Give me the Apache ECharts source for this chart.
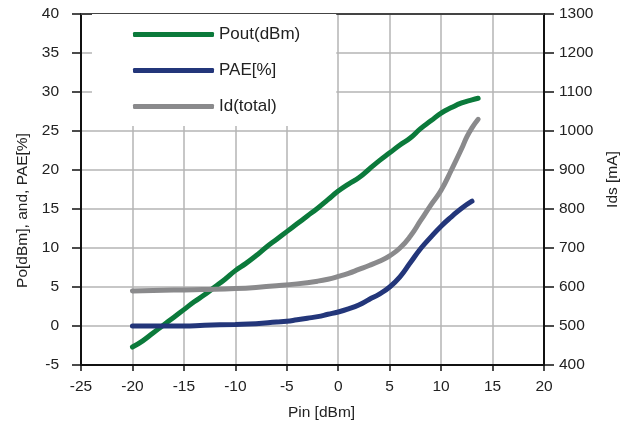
<!DOCTYPE html>
<html>
<head>
<meta charset="utf-8">
<script src="https://cdn.jsdelivr.net/npm/echarts@6/dist/echarts.min.js"></script>
<style>
  html, body { margin: 0; padding: 0; background: #fff; }
  #main { width: 626px; height: 430px; }
</style>
</head>
<body>
<div id="main"></div>
<script>
// Pout (dBm) vs Pin
var pinPout = [-20, -19, -18, -17, -16, -15, -14, -13, -12, -11, -10, -9, -8, -7, -6, -5, -4, -3, -2, -1, 0, 1, 2, 3, 4, 5, 6, 7, 8, 9, 10, 11, 12, 13, 13.6];
var pout = [-2.7, -1.9, -0.9, 0.1, 1.1, 2.1, 3.1, 4.0, 5.0, 6.0, 7.1, 8.0, 9.0, 10.1, 11.1, 12.1, 13.1, 14.1, 15.1, 16.2, 17.3, 18.2, 19.0, 20.1, 21.2, 22.2, 23.2, 24.1, 25.3, 26.3, 27.3, 28.0, 28.6, 29.0, 29.2];

// PAE (%) vs Pin
var pinPae = [-20, -17, -15, -13, -10, -8, -6, -5, -4, -3, -2, -1, 0, 1, 2, 3, 4, 5, 6, 7, 8, 9, 10, 11, 12, 13];
var pae = [0, 0, 0, 0.1, 0.2, 0.3, 0.5, 0.6, 0.8, 1.0, 1.2, 1.5, 1.8, 2.2, 2.7, 3.4, 4.1, 5.0, 6.3, 8.1, 9.9, 11.4, 12.8, 14.0, 15.1, 16.0];

// Id(total) (mA) vs Pin
var pinId = [-20, -18, -16, -14, -12, -10, -8, -6, -4, -2, -1, 0, 1, 2, 3, 4, 5, 6, 7, 8, 9, 10, 11, 12, 12.5, 13, 13.6];
var idTotal = [590, 591, 592, 593, 594, 596, 599, 603, 608, 615, 620, 627, 635, 645, 655, 666, 680, 700, 730, 770, 810, 848, 900, 955, 985, 1008, 1030];

function pairs(xs, ys) {
    return xs.map(function (x, i) { return [x, ys[i]]; });
}

var font = 'Liberation Sans';
var myChart = echarts.init(document.getElementById('main'));

var option = {
    backgroundColor: '#fff',
    animation: false,
    textStyle: { fontFamily: font },
    grid: { left: 81, right: 82, top: 14, bottom: 65, outerBoundsMode: 'none' },
    legend: {
        orient: 'vertical',
        left: 92,
        top: 14,
        backgroundColor: '#fff',
        padding: [12, 36, 11, 41],
        itemGap: 19,
        itemWidth: 81,
        itemHeight: 5,
        icon: 'roundRect',
        textStyle: { fontFamily: font, fontSize: 17, color: '#222' },
        data: ['Pout(dBm)', 'PAE[%]', 'Id(total)']
    },
    xAxis: [{
        type: 'value',
        min: -25,
        max: 20,
        interval: 5,
        name: 'Pin [dBm]',
        nameLocation: 'middle',
        nameGap: 40,
        nameTextStyle: { fontFamily: font, fontSize: 15.5, color: '#222', padding: [0, 0, 0, 18] },
        axisLine: { onZero: false, lineStyle: { color: '#111', width: 2 } },
        axisTick: { length: 6, lineStyle: { color: '#111', width: 1.5 } },
        axisLabel: { fontFamily: font, fontSize: 15.5, color: '#222', margin: 14 },
        splitLine: { lineStyle: { color: '#b4b4b4', width: 1.5 } }
    }, {
        type: 'value',
        position: 'top',
        min: -25,
        max: 20,
        axisLine: { onZero: false, lineStyle: { color: '#444', width: 2 } },
        axisTick: { show: false },
        axisLabel: { show: false },
        splitLine: { show: false }
    }],
    yAxis: [{
        type: 'value',
        min: -5,
        max: 40,
        interval: 5,
        name: 'Po[dBm], and, PAE[%]',
        nameLocation: 'middle',
        nameGap: 48,
        nameRotate: 90,
        nameTextStyle: { fontFamily: font, fontSize: 15.5, color: '#222', padding: [0, 42, 0, 0] },
        axisLine: { show: true, onZero: false, lineStyle: { color: '#111', width: 2 } },
        axisTick: { show: true, length: 9, lineStyle: { color: '#111', width: 1.5 } },
        axisLabel: { fontFamily: font, fontSize: 15.5, color: '#222', margin: 22 },
        splitLine: { lineStyle: { color: '#b4b4b4', width: 1.5 } }
    }, {
        type: 'value',
        min: 400,
        max: 1300,
        interval: 100,
        position: 'right',
        name: 'Ids [mA]',
        nameLocation: 'middle',
        nameGap: 50,
        nameRotate: 90,
        nameTextStyle: { fontFamily: font, fontSize: 15.5, color: '#222', padding: [0, 0, 0, 20] },
        axisLine: { show: true, onZero: false, lineStyle: { color: '#111', width: 2 } },
        axisTick: { show: true, length: 10, lineStyle: { color: '#111', width: 1.5 } },
        axisLabel: {
            fontFamily: font, fontSize: 15.5, color: '#222', margin: 15,
            formatter: function (v) { return String(v); }
        },
        splitLine: { show: false }
    }],
    series: [{
        name: 'Pout(dBm)',
        type: 'line',
        smooth: true,
        showSymbol: false,
        itemStyle: { color: '#0b7a3b' },
        lineStyle: { width: 5, color: '#0b7a3b', cap: 'round' },
        data: pairs(pinPout, pout)
    }, {
        name: 'PAE[%]',
        type: 'line',
        smooth: true,
        showSymbol: false,
        itemStyle: { color: '#23367a' },
        lineStyle: { width: 5, color: '#23367a', cap: 'round' },
        data: pairs(pinPae, pae)
    }, {
        name: 'Id(total)',
        type: 'line',
        yAxisIndex: 1,
        smooth: true,
        showSymbol: false,
        itemStyle: { color: '#8a8a8c' },
        lineStyle: { width: 5, color: '#8a8a8c', cap: 'round' },
        data: pairs(pinId, idTotal)
    }]
};
myChart.setOption(option);
</script>
</body>
</html>
